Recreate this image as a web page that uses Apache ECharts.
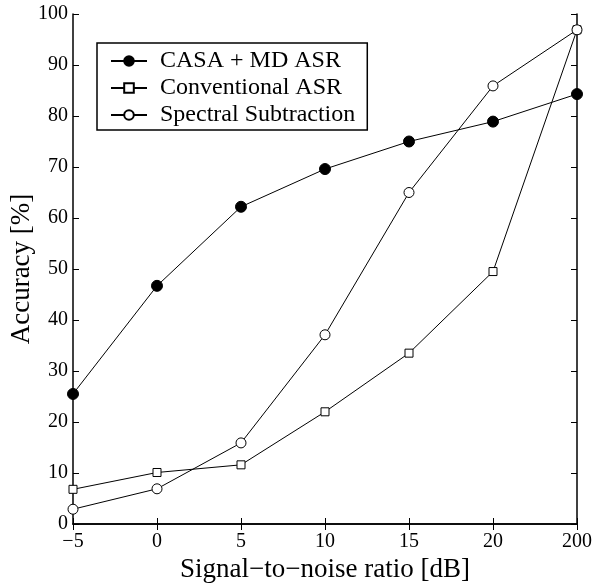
<!DOCTYPE html>
<html>
<head>
<meta charset="utf-8">
<script src="https://cdn.jsdelivr.net/npm/echarts@6/dist/echarts.min.js"></script>
<style>
  html, body { margin: 0; padding: 0; background: #fff; }
  #chart { width: 594px; height: 587px; }
</style>
</head>
<body>
<div id="chart"></div>
<script>
var snr = ['\u22125', '0', '5', '10', '15', '20', '200'];
var casaMd = [25.5, 46.7, 62.2, 69.6, 75.0, 78.9, 84.3];
var conventional = [6.8, 10.1, 11.6, 22.0, 33.5, 49.5, 96.9];
var spectral = [2.9, 6.9, 15.9, 37.1, 65.0, 85.9, 96.9];
var yTicks = [0, 10, 20, 30, 40, 50, 60, 70, 80, 90, 100];

var font = 'Liberation Serif';
var chart = echarts.init(document.getElementById('chart'));

function serie(name, data, symbol, size, fill) {
    return {
        name: name,
        type: 'line',
        data: data,
        symbol: symbol,
        symbolSize: size,
        showAllSymbol: true,
        lineStyle: { color: '#000', width: 1 },
        itemStyle: { color: fill, borderColor: '#000', borderWidth: 1 }
    };
}

chart.setOption({
    animation: false,
    textStyle: { fontFamily: font, color: '#000' },
    grid: { left: 73, top: 14, right: 17, bottom: 63, containLabel: false, outerBoundsMode: 'none' },
    legend: {
        orient: 'vertical',
        left: 97,
        top: 43,
        padding: [6, 12, 3, 13],
        itemGap: 3,
        itemWidth: 36,
        itemHeight: 12,
        borderColor: '#000',
        borderWidth: 1.5,
        backgroundColor: '#fff',
        textStyle: { fontFamily: font, fontSize: 24, color: '#000', padding: [0, 0, 0, 8] },
        data: ['CASA + MD ASR', 'Conventional ASR', 'Spectral Subtraction']
    },
    xAxis: [{
        type: 'category',
        data: snr,
        boundaryGap: false,
        name: 'Signal\u2212to\u2212noise ratio [dB]',
        nameLocation: 'middle',
        nameGap: 32,
        nameTextStyle: { fontFamily: font, fontSize: 27, color: '#000' },
        axisLine: { lineStyle: { color: '#000', width: 1.5 } },
        axisTick: { inside: true, length: 6, alignWithLabel: true, lineStyle: { color: '#000' } },
        axisLabel: { fontFamily: font, fontSize: 20, color: '#000', margin: 8 },
        splitLine: { show: false }
    }, {
        type: 'category',
        data: snr,
        boundaryGap: false,
        position: 'top',
        axisLine: { lineStyle: { color: '#000', width: 1.5 } },
        axisTick: { inside: true, length: 6, lineStyle: { color: '#000' } },
        axisLabel: { show: false },
        splitLine: { show: false }
    }],
    yAxis: [{
        type: 'value',
        min: yTicks[0],
        max: yTicks[yTicks.length - 1],
        interval: 10,
        name: 'Accuracy [%]',
        nameLocation: 'middle',
        nameGap: 38,
        nameMoveOverlap: false,
        nameTextStyle: { fontFamily: font, fontSize: 27, color: '#000' },
        axisLine: { show: true, lineStyle: { color: '#000', width: 1.5 } },
        axisTick: { show: true, inside: true, length: 6, lineStyle: { color: '#000' } },
        axisLabel: { fontFamily: font, fontSize: 20, color: '#000', margin: 5 },
        splitLine: { show: false }
    }, {
        type: 'value',
        min: yTicks[0],
        max: yTicks[yTicks.length - 1],
        interval: 10,
        position: 'right',
        axisLine: { show: true, lineStyle: { color: '#000', width: 1.5 } },
        axisTick: { show: true, inside: true, length: 6, lineStyle: { color: '#000' } },
        axisLabel: { show: false },
        splitLine: { show: false }
    }],
    series: [
        serie('CASA + MD ASR', casaMd, 'circle', 11, '#000'),
        serie('Conventional ASR', conventional, 'rect', 8, '#fff'),
        serie('Spectral Subtraction', spectral, 'circle', 10, '#fff')
    ]
});
</script>
</body>
</html>
